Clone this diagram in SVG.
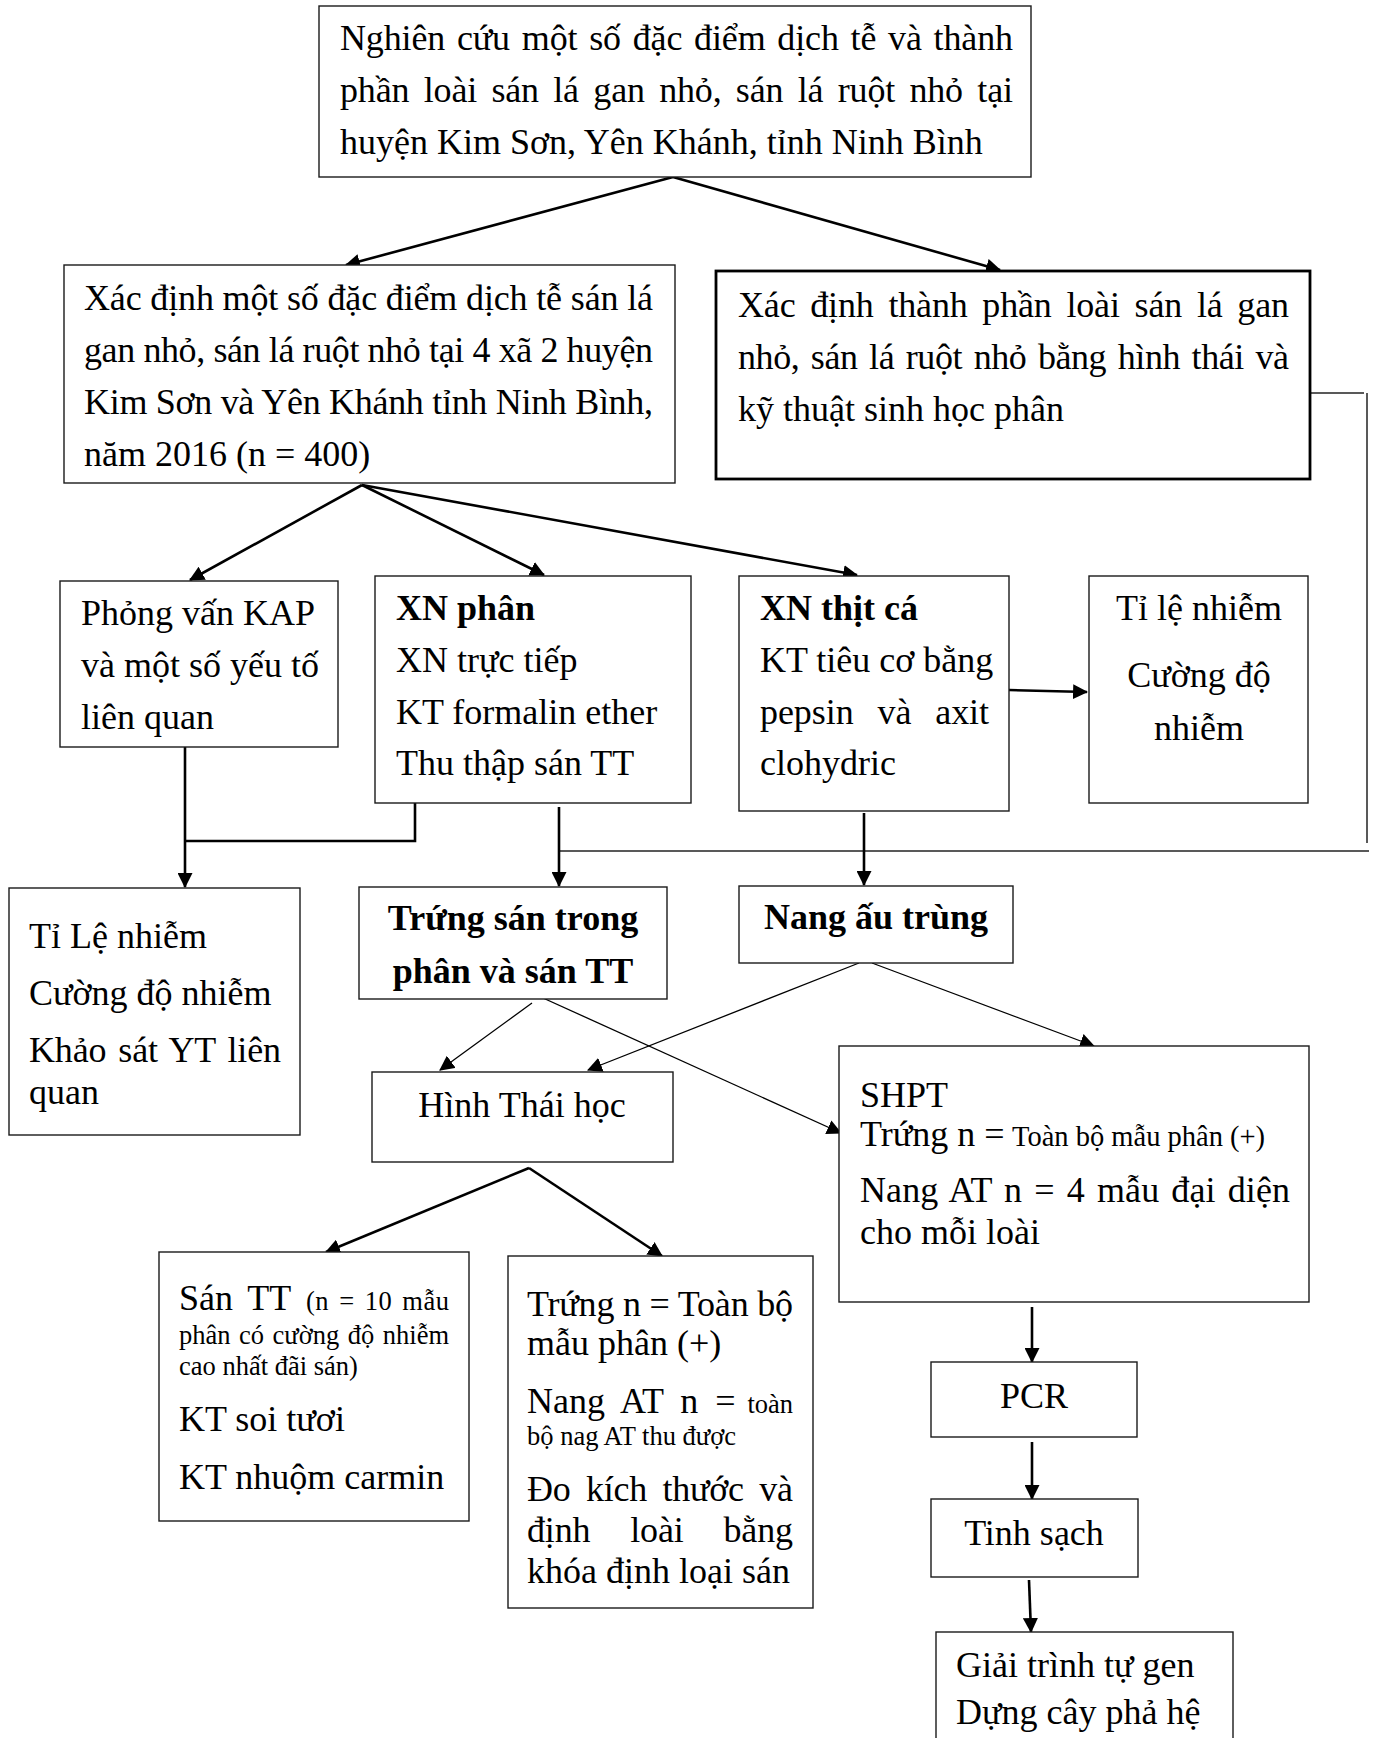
<svg xmlns="http://www.w3.org/2000/svg" width="1376" height="1738" viewBox="0 0 1376 1738">
<style>
.box{fill:#fff;stroke:#1a1a1a;stroke-width:1.4}
.boxb{fill:#fff;stroke:#000;stroke-width:2.8}
text{font-family:'Liberation Serif','Times New Roman',serif;font-size:36px;fill:#000}
.b{font-weight:bold}
.s{font-size:26.5px}
.c{text-anchor:middle}
.thick{stroke:#000;stroke-width:2.6;fill:none}
.thin{stroke:#000;stroke-width:1.3;fill:none}
.gl{stroke:#222;stroke-width:1.5;fill:none}
</style>
<defs>
<marker id="ah" viewBox="0 0 14 14" markerWidth="15" markerHeight="15" refX="13" refY="7" orient="auto" markerUnits="userSpaceOnUse"><path d="M0,0L14,7L0,14z" fill="#000"/></marker>
</defs>
<rect width="1376" height="1738" fill="#fff"/>

<g id="connectors">
<line class="thick" x1="673" y1="177" x2="346" y2="265" marker-end="url(#ah)"/>
<line class="thick" x1="673" y1="177" x2="1000" y2="270" marker-end="url(#ah)"/>
<line class="thick" x1="362" y1="485" x2="190" y2="580" marker-end="url(#ah)"/>
<line class="thick" x1="362" y1="485" x2="544" y2="575" marker-end="url(#ah)"/>
<line class="thick" x1="362" y1="485" x2="857" y2="575" marker-end="url(#ah)"/>
<line class="thick" x1="1009" y1="690" x2="1087" y2="692" marker-end="url(#ah)"/>
<line class="gl" x1="1311" y1="393" x2="1364" y2="393"/>
<line class="gl" x1="1367" y1="393" x2="1367" y2="843"/>
<line class="gl" x1="1369" y1="851" x2="559" y2="851"/>
<line class="thick" x1="185" y1="747" x2="185" y2="887" marker-end="url(#ah)"/>
<polyline class="thick" points="415,803 415,841 185,841"/>
<line class="thick" x1="559" y1="807" x2="559" y2="886" marker-end="url(#ah)"/>
<line class="thick" x1="864" y1="813" x2="864" y2="885" marker-end="url(#ah)"/>
<line class="thin" x1="532" y1="1003" x2="440" y2="1070" marker-end="url(#ah)"/>
<line class="thin" x1="532" y1="993" x2="841" y2="1133" marker-end="url(#ah)"/>
<line class="thin" x1="859" y1="963" x2="588" y2="1070" marker-end="url(#ah)"/>
<line class="thin" x1="872" y1="963" x2="1094" y2="1046" marker-end="url(#ah)"/>
<line class="thick" x1="529" y1="1168" x2="326" y2="1252" marker-end="url(#ah)"/>
<line class="thick" x1="529" y1="1168" x2="662" y2="1256" marker-end="url(#ah)"/>
<line class="thick" x1="1032" y1="1307" x2="1032" y2="1362" marker-end="url(#ah)"/>
<line class="thick" x1="1032" y1="1442" x2="1032" y2="1499" marker-end="url(#ah)"/>
<line class="thick" x1="1029" y1="1580" x2="1031" y2="1632" marker-end="url(#ah)"/>
</g>

<g id="n1">
<rect class="box" x="319" y="6" width="712" height="171"/>
<text x="340" y="50" textLength="673" lengthAdjust="spacing" word-spacing="3">Nghiên cứu một số đặc điểm dịch tễ và thành</text>
<text x="340" y="102" textLength="673" lengthAdjust="spacing" word-spacing="5.5">phần loài sán lá gan nhỏ, sán lá ruột nhỏ tại</text>
<text x="340" y="154">huyện Kim Sơn, Yên Khánh, tỉnh Ninh Bình</text>
</g>

<g id="n2">
<rect class="box" x="64" y="265" width="611" height="218"/>
<text x="84" y="310" textLength="569" lengthAdjust="spacing">Xác định một số đặc điểm dịch tễ sán lá</text>
<text x="84" y="362" textLength="569" lengthAdjust="spacing">gan nhỏ, sán lá ruột nhỏ tại 4 xã 2 huyện</text>
<text x="84" y="414" textLength="569" lengthAdjust="spacing">Kim Sơn và Yên Khánh tỉnh Ninh Bình,</text>
<text x="84" y="466">năm 2016 (n = 400)</text>
</g>

<g id="n3">
<rect class="boxb" x="716" y="271" width="594" height="208"/>
<text x="738" y="317" textLength="551" lengthAdjust="spacing" word-spacing="6">Xác định thành phần loài sán lá gan</text>
<text x="738" y="369" textLength="551" lengthAdjust="spacing" word-spacing="3">nhỏ, sán lá ruột nhỏ bằng hình thái và</text>
<text x="738" y="421">kỹ thuật sinh học phân</text>
</g>

<g id="n4">
<rect class="box" x="60" y="581" width="278" height="166"/>
<text x="81" y="625">Phỏng vấn KAP</text>
<text x="81" y="677">và một số yếu tố</text>
<text x="81" y="729">liên quan</text>
</g>

<g id="n5">
<rect class="box" x="375" y="576" width="316" height="227"/>
<text x="396" y="620" class="b">XN phân</text>
<text x="396" y="672">XN trực tiếp</text>
<text x="396" y="724">KT formalin ether</text>
<text x="396" y="775">Thu thập sán TT</text>
</g>

<g id="n6">
<rect class="box" x="739" y="576" width="270" height="235"/>
<text x="760" y="620" class="b">XN thịt cá</text>
<text x="760" y="672">KT tiêu cơ bằng</text>
<text x="760" y="724" textLength="229" lengthAdjust="spacing" word-spacing="15">pepsin và axit</text>
<text x="760" y="775">clohydric</text>
</g>

<g id="n7">
<rect class="box" x="1089" y="576" width="219" height="227"/>
<text x="1199" y="620" class="c">Tỉ lệ nhiễm</text>
<text x="1199" y="687" class="c">Cường độ</text>
<text x="1199" y="740" class="c">nhiễm</text>
</g>

<g id="n8">
<rect class="box" x="9" y="888" width="291" height="247"/>
<text x="29" y="948">Tỉ Lệ nhiễm</text>
<text x="29" y="1005">Cường độ nhiễm</text>
<text x="29" y="1062" textLength="252" lengthAdjust="spacing" word-spacing="3">Khảo sát YT liên</text>
<text x="29" y="1104">quan</text>
</g>

<g id="n9">
<rect class="box" x="359" y="887" width="308" height="112"/>
<text x="513" y="930" class="b c">Trứng sán trong</text>
<text x="513" y="983" class="b c">phân và sán TT</text>
</g>

<g id="n10">
<rect class="box" x="739" y="886" width="274" height="77"/>
<text x="876" y="929" class="b c">Nang ấu trùng</text>
</g>

<g id="n11">
<rect class="box" x="372" y="1072" width="301" height="90"/>
<text x="522" y="1117" class="c">Hình Thái học</text>
</g>

<g id="n12">
<rect class="box" x="839" y="1046" width="470" height="256"/>
<text x="860" y="1107">SHPT</text>
<text x="860" y="1146">Trứng n =</text>
<text x="1012" y="1146" style="font-size:28.5px">Toàn bộ mẫu phân (+)</text>
<text x="860" y="1202" textLength="430" lengthAdjust="spacing" word-spacing="3">Nang AT n = 4 mẫu đại diện</text>
<text x="860" y="1244">cho mỗi loài</text>
</g>

<g id="n13">
<rect class="box" x="159" y="1252" width="310" height="269"/>
<text x="179" y="1310" word-spacing="6">Sán TT</text>
<text x="306" y="1310" class="s" textLength="143" lengthAdjust="spacing" word-spacing="3">(n = 10 mẫu</text>
<text x="179" y="1344" class="s" textLength="270" lengthAdjust="spacing" word-spacing="2">phân có cường độ nhiễm</text>
<text x="179" y="1375" class="s">cao nhất đãi sán)</text>
<text x="179" y="1431">KT soi tươi</text>
<text x="179" y="1489">KT nhuộm carmin</text>
</g>

<g id="n14">
<rect class="box" x="508" y="1256" width="305" height="352"/>
<text x="527" y="1316" textLength="266" lengthAdjust="spacing">Trứng n = Toàn bộ</text>
<text x="527" y="1355">mẫu phân (+)</text>
<text x="527" y="1413" word-spacing="8">Nang AT n =</text>
<text x="793" y="1413" class="s" text-anchor="end">toàn</text>
<text x="527" y="1445" class="s">bộ nag AT thu được</text>
<text x="527" y="1501" textLength="266" lengthAdjust="spacing" word-spacing="7">Đo kích thước và</text>
<text x="527" y="1542" textLength="266" lengthAdjust="spacing" word-spacing="31">định loài bằng</text>
<text x="527" y="1583">khóa định loại sán</text>
</g>

<g id="n15">
<rect class="box" x="931" y="1362" width="206" height="75"/>
<text x="1034" y="1408" class="c">PCR</text>
</g>

<g id="n16">
<rect class="box" x="931" y="1499" width="207" height="78"/>
<text x="1034" y="1545" class="c">Tinh sạch</text>
</g>

<g id="n17">
<rect class="box" x="936" y="1632" width="297" height="120"/>
<text x="956" y="1677">Giải trình tự gen</text>
<text x="956" y="1724">Dựng cây phả hệ</text>
</g>
</svg>
